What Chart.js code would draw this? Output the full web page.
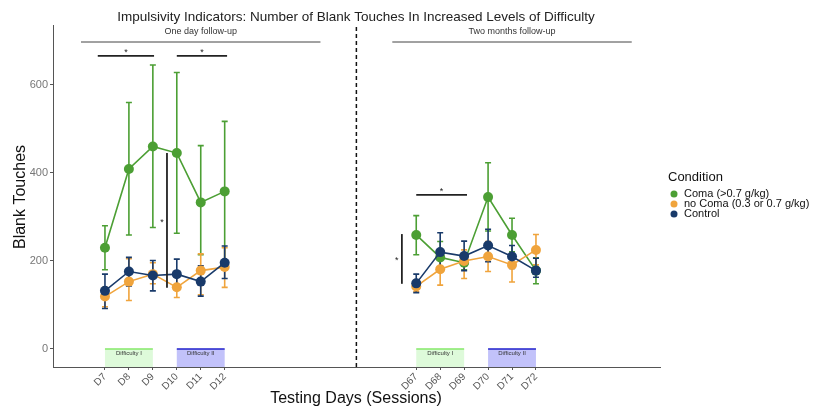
<!DOCTYPE html>
<html>
<head>
<meta charset="utf-8">
<script src="https://cdn.jsdelivr.net/npm/chart.js@4/dist/chart.umd.min.js"></script>
<style>
html,body{margin:0;padding:0;background:#fff;}
#wrap{width:814px;height:411px;position:relative;}
</style>
</head>
<body>
<div id="wrap"><canvas id="c" width="814" height="411"></canvas></div>
<script>
// ---- data ----
const days = ['D7','D8','D9','D10','D11','D12','D67','D68','D69','D70','D71','D72'];
const yTicks = [0, 200, 400, 600];
const seriesNames = ['Coma (>0.7 g/kg)', 'no Coma (0.3 or 0.7 g/kg)', 'Control'];

const comaMean = [230, 409, 460, 445, 333, 358, 259, 208, 196, 345, 259, 178];
const comaLow  = [180, 259, 276, 263, 214, 200, 214, 180, 180, 268, 221, 148];
const comaHigh = [280, 560, 645, 628, 462, 517, 303, 244, 214, 423, 297, 207];

const noComaMean = [119, 153, 170, 140, 178, 186, 142, 181, 200, 210, 191, 225];
const noComaLow  = [ 96, 110, 148, 117, 123, 140, 130, 145, 160, 176, 152, 191];
const noComaHigh = [140, 205, 196, 164, 216, 230, 157, 214, 225, 244, 217, 260];

const ctrlMean = [132, 176, 167, 170, 153, 196, 149, 220, 211, 235, 210, 178];
const ctrlLow  = [ 92, 143, 132, 145, 120, 160, 128, 186, 178, 198, 183, 163];
const ctrlHigh = [170, 208, 201, 204, 189, 234, 170, 264, 245, 272, 235, 206];

const title = 'Impulsivity Indicators: Number of Blank Touches In Increased Levels of Difficulty';
const panelLabels = ['One day follow-up', 'Two months follow-up'];
const difficultyLabels = ['Difficulty I', 'Difficulty II'];
const legendTitle = 'Condition';
const xTitle = 'Testing Days (Sessions)';
const yTitle = 'Blank Touches';

// ---- derived positions on the x axis (gap between the two follow-ups) ----
const xPos = days.map((d, i) => i < 6 ? i : i + 7);

const COLORS = ['#4c9f34', '#f0a43c', '#193a6a'];
const FONT = "'Liberation Sans', Arial, sans-serif";

function pts(arr){ return arr.map((v,i)=>({x:xPos[i], y:v})); }

const errs = [[comaLow, comaHigh], [noComaLow, noComaHigh], [ctrlLow, ctrlHigh]];

const overlay = {
  id:'overlay',
  beforeDatasetsDraw(chart){
    const ctx = chart.ctx, xs = chart.scales.x, ys = chart.scales.y;
    const ca = chart.chartArea;
    ctx.save();
    // difficulty boxes
    const boxes = [[xPos[0], xPos[2], 'rgba(160,240,150,0.35)', '#86e86a', difficultyLabels[0]],
                   [xPos[3], xPos[5], 'rgba(120,120,245,0.45)', '#2222cc', difficultyLabels[1]],
                   [xPos[6], xPos[8], 'rgba(160,240,150,0.35)', '#86e86a', difficultyLabels[0]],
                   [xPos[9], xPos[11], 'rgba(120,120,245,0.45)', '#2222cc', difficultyLabels[1]]];
    boxes.forEach(b=>{
      const x1 = xs.getPixelForValue(b[0]), x2 = xs.getPixelForValue(b[1]);
      const y1 = ys.getPixelForValue(0), y2 = ca.bottom;
      ctx.fillStyle = b[2];
      ctx.fillRect(x1, y1, x2-x1, y2-y1);
      ctx.strokeStyle = b[3]; ctx.lineWidth = 1.5;
      ctx.beginPath(); ctx.moveTo(x1, y1); ctx.lineTo(x2, y1); ctx.stroke();
      ctx.fillStyle = '#333'; ctx.font = '6px ' + FONT;
      ctx.textAlign = 'center'; ctx.textBaseline = 'middle';
      ctx.fillText(b[4], (x1+x2)/2, y1 + 4);
    });
    // dashed separator
    const xd = xs.getPixelForValue(10.5);
    ctx.strokeStyle = '#111'; ctx.lineWidth = 1.5; ctx.setLineDash([4,3]);
    ctx.beginPath(); ctx.moveTo(xd, ca.top+2); ctx.lineTo(xd, ca.bottom); ctx.stroke();
    ctx.setLineDash([]);
    // error bars
    chart.data.datasets.forEach((ds, k)=>{
      const [lo, hi] = errs[k];
      ctx.strokeStyle = COLORS[k]; ctx.lineWidth = 1.6;
      lo.forEach((l, i)=>{
        const px = xs.getPixelForValue(xPos[i]);
        const pl = ys.getPixelForValue(l), ph = ys.getPixelForValue(hi[i]);
        ctx.beginPath();
        ctx.moveTo(px, pl); ctx.lineTo(px, ph);
        ctx.moveTo(px-3, pl); ctx.lineTo(px+3, pl);
        ctx.moveTo(px-3, ph); ctx.lineTo(px+3, ph);
        ctx.stroke();
      });
    });
    ctx.restore();
  },
  afterDraw(chart){
    const ctx = chart.ctx, xs = chart.scales.x, ys = chart.scales.y;
    const ca = chart.chartArea;
    ctx.save();
    // title
    ctx.fillStyle = '#222'; ctx.font = '13.5px ' + FONT;
    ctx.textAlign = 'center'; ctx.textBaseline = 'middle';
    ctx.fillText(title, 356, 17);
    // panel header lines
    const hdr = [[-1, 9, panelLabels[0]], [12, 22, panelLabels[1]]];
    hdr.forEach(h=>{
      const x1 = xs.getPixelForValue(h[0]), x2 = xs.getPixelForValue(h[1]);
      ctx.strokeStyle = '#444'; ctx.lineWidth = 1;
      ctx.beginPath(); ctx.moveTo(x1, 42); ctx.lineTo(x2, 42); ctx.stroke();
      ctx.fillStyle = '#333'; ctx.font = '9px ' + FONT;
      ctx.fillText(h[2], (x1+x2)/2, 32);
    });
    // significance markers
    ctx.strokeStyle = '#222'; ctx.lineWidth = 1.8; ctx.fillStyle = '#222';
    const hbars = [[-0.3, 2.05, 666], [3.0, 5.1, 666], [13.0, 15.12, 350]];
    hbars.forEach(b=>{
      const x1 = xs.getPixelForValue(b[0]), x2 = xs.getPixelForValue(b[1]), y = ys.getPixelForValue(b[2]);
      ctx.beginPath(); ctx.moveTo(x1, y); ctx.lineTo(x2, y); ctx.stroke();
      ctx.font = '9px ' + FONT;
      ctx.fillText('*', (x1+x2)/2, y - 3);
    });
    const vbars = [[2.59, 139, 445], [12.4, 148, 261]];
    vbars.forEach(b=>{
      const x = xs.getPixelForValue(b[0]);
      const y1 = ys.getPixelForValue(b[1]), y2 = ys.getPixelForValue(b[2]);
      ctx.beginPath(); ctx.moveTo(x, y1); ctx.lineTo(x, y2); ctx.stroke();
      ctx.font = '9px ' + FONT;
      ctx.fillText('*', x - 5, (y1+y2)/2 + 2);
    });
    // axis titles
    ctx.fillStyle = '#111'; ctx.font = '16px ' + FONT;
    ctx.fillText(xTitle, 356, 399);
    ctx.save();
    ctx.translate(21, 197); ctx.rotate(-Math.PI/2);
    ctx.fillText(yTitle, 0, 0);
    ctx.restore();
    // legend
    ctx.textAlign = 'left';
    ctx.fillStyle = '#111'; ctx.font = '13px ' + FONT;
    ctx.fillText(legendTitle, 668, 177);
    ctx.font = '11px ' + FONT;
    seriesNames.forEach((n, k)=>{
      const y = 194 + k*10;
      ctx.fillStyle = COLORS[k];
      ctx.beginPath(); ctx.arc(674, y, 3.5, 0, Math.PI*2); ctx.fill();
      ctx.fillStyle = '#111';
      ctx.fillText(n, 684, y);
    });
    ctx.restore();
  }
};

const datasets = [
  {label: seriesNames[0], data: pts(comaMean), order: 2},
  {label: seriesNames[1], data: pts(noComaMean), order: 1},
  {label: seriesNames[2], data: pts(ctrlMean), order: 0}
].map((d,k)=>Object.assign(d, {
  borderColor: COLORS[k], backgroundColor: COLORS[k],
  borderWidth: 1.6, pointRadius: 5, pointBorderWidth: 0,
  pointBackgroundColor: COLORS[k], tension: 0,
  segment: { borderColor: ctx => (ctx.p0.parsed.x === 5 ? 'rgba(0,0,0,0)' : COLORS[k]) }
}));

new Chart(document.getElementById('c'), {
  type: 'line',
  data: { datasets },
  options: {
    responsive: false,
    animation: false,
    layout: { padding: { top: 25, right: 154, left: 0, bottom: 0 } },
    plugins: { legend: { display: false }, tooltip: { enabled: false }, title: { display: false } },
    scales: {
      x: {
        type: 'linear', min: -2.17, max: 23.18,
        grid: { drawOnChartArea: false, drawTicks: true, tickLength: 3, color: '#555' },
        border: { display: true, color: '#555', width: 1 },
        afterBuildTicks: s => { s.ticks = xPos.map(v => ({ value: v })); },
        afterFit: s => { s.height = 44; },
        ticks: {
          autoSkip: false, minRotation: 45, maxRotation: 45, padding: 1,
          color: '#555', font: { family: FONT, size: 10 },
          callback: v => { const i = xPos.indexOf(v); return i >= 0 ? days[i] : ''; }
        }
      },
      y: {
        min: -41, max: 736,
        grid: { drawOnChartArea: false, drawTicks: true, tickLength: 3, color: '#555' },
        border: { display: true, color: '#555', width: 1 },
        afterBuildTicks: s => { s.ticks = yTicks.map(v => ({ value: v })); },
        afterFit: s => { s.width = 53; },
        ticks: { color: '#777', font: { family: FONT, size: 11 }, padding: 2 }
      }
    }
  },
  plugins: [overlay]
});
</script>
</body>
</html>
